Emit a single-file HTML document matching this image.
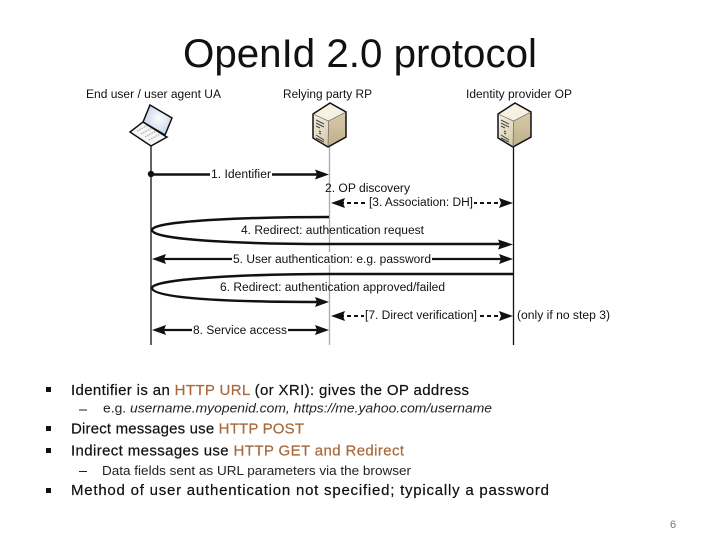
<!DOCTYPE html>
<html><head><meta charset="utf-8"><style>
html,body{margin:0;padding:0;background:#fff;width:720px;height:540px;overflow:hidden}
svg{display:block}
.d{font:11.5px "Liberation Sans",sans-serif;fill:#111}
.b{font:15px "Liberation Sans",sans-serif;fill:#111;stroke:#111;stroke-width:.2}
.s{font:12.5px "Liberation Sans",sans-serif;fill:#222}
.o{fill:#a9683a;stroke:#a9683a}
</style></head><body>
<svg width="720" height="540" viewBox="0 0 720 540" xmlns="http://www.w3.org/2000/svg">
<defs>
<linearGradient id="sv" x1="0" y1="0" x2="0.6" y2="1"><stop offset="0" stop-color="#f6f1e2"/><stop offset="1" stop-color="#d8cdb0"/></linearGradient>
<linearGradient id="sr" x1="0" y1="0" x2="0" y2="1"><stop offset="0" stop-color="#d8cbaa"/><stop offset="1" stop-color="#bfae8a"/></linearGradient>
<radialGradient id="scr" cx=".55" cy=".45" r=".7"><stop offset="0" stop-color="#fbfcff"/><stop offset="1" stop-color="#b9c9e4"/></radialGradient>
<g id="server">
<path d="M0 11 L17 0 L33 9 L15.5 18 Z" fill="#f6f2e3"/>
<path d="M15.5 18 L33 9 L33 34 L15 44 Z" fill="url(#sr)"/>
<path d="M0 11 L15.5 18 L15 44 L0 35 Z" fill="url(#sv)"/>
<path d="M0 11 L17 0 L33 9 L33 34 L15 44 L0 35 Z" fill="none" stroke="#111" stroke-width="1.5"/>
<path d="M0 11 L15.5 18 L33 9 M15.5 18 L15 44" fill="none" stroke="#555" stroke-width=".6"/>
<path d="M3 17 L11 21 M3 20 L11 24 M3 23 L7 25 M6 28 L8 29 M6 30 L8 31 M3 32 L11 37 M3 35 L11 39" stroke="#444" stroke-width="1"/>
</g>
</defs>

<text x="183" y="67" font-family="'Liberation Sans',sans-serif" font-size="40" fill="#111" textLength="354" lengthAdjust="spacingAndGlyphs">OpenId 2.0 protocol</text>

<!-- lifelines -->
<line x1="151" y1="143" x2="151" y2="345" stroke="#111" stroke-width="1.3"/>
<line x1="329.5" y1="146" x2="329.5" y2="345" stroke="#aaa" stroke-width="1.3"/>
<line x1="513.5" y1="146" x2="513.5" y2="345" stroke="#111" stroke-width="1.3"/>

<!-- actor labels -->
<text class="d" x="86" y="98" textLength="135" lengthAdjust="spacingAndGlyphs">End user / user agent UA</text>
<text class="d" x="283" y="98" textLength="89" lengthAdjust="spacingAndGlyphs">Relying party RP</text>
<text class="d" x="466" y="98" textLength="106" lengthAdjust="spacingAndGlyphs">Identity provider OP</text>

<!-- laptop -->
<path d="M150 105 L172 118 L165 135 L143 122 Z" fill="url(#scr)" stroke="#111" stroke-width="1.5"/>
<path d="M143 122 L165 136 L167 137 L151 146 L130 132 Z" fill="#f6f6f6" stroke="#111" stroke-width="1.5"/>
<path d="M137 131 L148 125 M141 134 L152 128 M145 137 L156 131 M149 140 L160 134" stroke="#aaa" stroke-width="1.2" stroke-dasharray="1.5 1"/>

<use href="#server" x="313" y="103"/>
<use href="#server" x="498" y="103"/>

<!-- 1 -->
<circle cx="151" cy="174" r="3.2" fill="#111"/>
<line x1="151" y1="174.5" x2="318" y2="174.5" stroke="#111" stroke-width="2.5"/>
<path d="M315 169.5 L329 174.5 L315 179.5 L317 174.5 Z" fill="#111"/>
<rect x="210" y="168" width="62" height="12" fill="#fff"/>
<text class="d" x="211" y="178" textLength="60" lengthAdjust="spacingAndGlyphs">1. Identifier</text>

<!-- 2 -->
<text class="d" x="325" y="192" textLength="85" lengthAdjust="spacingAndGlyphs">2. OP discovery</text>

<!-- 3 -->
<line x1="340" y1="203" x2="503" y2="203" stroke="#111" stroke-width="2" stroke-dasharray="4 3"/>
<path d="M331 203 L345 198 L343 203 L345 208 Z" fill="#111"/>
<path d="M513 203 L499 198 L501 203 L499 208 Z" fill="#111"/>
<rect x="368" y="196" width="106" height="13" fill="#fff"/>
<text class="d" x="369" y="206" textLength="104" lengthAdjust="spacingAndGlyphs">[3. Association: DH]</text>

<!-- 4 -->
<path d="M329 217 C260 217 152 220 152 230 C152 240 240 244 330 244 L502 244" fill="none" stroke="#111" stroke-width="2.5"/>
<path d="M498 239.5 L513 244.5 L498 249.5 L500 244.5 Z" fill="#111"/>
<text class="d" x="241" y="234" textLength="183" lengthAdjust="spacingAndGlyphs">4. Redirect: authentication request</text>

<!-- 5 -->
<line x1="160" y1="259" x2="503" y2="259" stroke="#111" stroke-width="2.2"/>
<path d="M152 259 L166 254 L164 259 L166 264 Z" fill="#111"/>
<path d="M513 259 L499 254 L501 259 L499 264 Z" fill="#111"/>
<rect x="232" y="252" width="200" height="13" fill="#fff"/>
<text class="d" x="233" y="263" textLength="198" lengthAdjust="spacingAndGlyphs">5. User authentication: e.g. password</text>

<!-- 6 -->
<path d="M513 274 L330 274 C260 274 152 278 152 288 C152 298 220 302 320 302" fill="none" stroke="#111" stroke-width="2.5"/>
<path d="M315 297 L329 302 L315 307 L317 302 Z" fill="#111"/>
<text class="d" x="220" y="291" textLength="225" lengthAdjust="spacingAndGlyphs">6. Redirect: authentication approved/failed</text>

<!-- 7 -->
<line x1="340" y1="316" x2="503" y2="316" stroke="#111" stroke-width="2" stroke-dasharray="4 3"/>
<path d="M331 316 L345 311 L343 316 L345 321 Z" fill="#111"/>
<path d="M513 316 L499 311 L501 316 L499 321 Z" fill="#111"/>
<rect x="364" y="309" width="114" height="13" fill="#fff"/>
<text class="d" x="365" y="319" textLength="112" lengthAdjust="spacingAndGlyphs">[7. Direct verification]</text>
<text class="d" x="517" y="319" textLength="93" lengthAdjust="spacingAndGlyphs">(only if no step 3)</text>

<!-- 8 -->
<line x1="160" y1="330" x2="320" y2="330" stroke="#111" stroke-width="2.2"/>
<path d="M152 330 L166 325 L164 330 L166 335 Z" fill="#111"/>
<path d="M329 330 L315 325 L317 330 L315 335 Z" fill="#111"/>
<rect x="192" y="323" width="96" height="13" fill="#fff"/>
<text class="d" x="193" y="334" textLength="94" lengthAdjust="spacingAndGlyphs">8. Service access</text>

<!-- bullets -->
<rect x="46" y="387" width="5" height="5" fill="#111"/>
<rect x="46" y="426" width="5" height="5" fill="#111"/>
<rect x="46" y="448" width="5" height="5" fill="#111"/>
<rect x="46" y="488" width="5" height="5" fill="#111"/>

<text class="b" x="71" y="395" textLength="398" lengthAdjust="spacing">Identifier is an <tspan class="o">HTTP URL</tspan> (or XRI): gives the OP address</text>
<rect x="79" y="409.5" width="8" height="1" fill="#222"/>
<text class="s" x="103" y="412.5" textLength="389" lengthAdjust="spacingAndGlyphs">e.g. <tspan font-style="italic">username.myopenid.com, https://me.yahoo.com/username</tspan></text>
<text class="b" x="71" y="433.5" textLength="233" lengthAdjust="spacing">Direct messages use <tspan class="o">HTTP POST</tspan></text>
<text class="b" x="71" y="455.5" textLength="333" lengthAdjust="spacing">Indirect messages use <tspan class="o">HTTP GET and Redirect</tspan></text>
<rect x="79" y="471" width="8" height="1" fill="#222"/>
<text class="s" x="102" y="475" textLength="309" lengthAdjust="spacingAndGlyphs">Data fields sent as URL parameters via the browser</text>
<text class="b" x="71" y="495" textLength="478" lengthAdjust="spacing">Method of user authentication not specified; typically a password</text>

<text x="670" y="528" font-family="'Liberation Sans',sans-serif" font-size="11" fill="#777">6</text>
</svg>
</body></html>
